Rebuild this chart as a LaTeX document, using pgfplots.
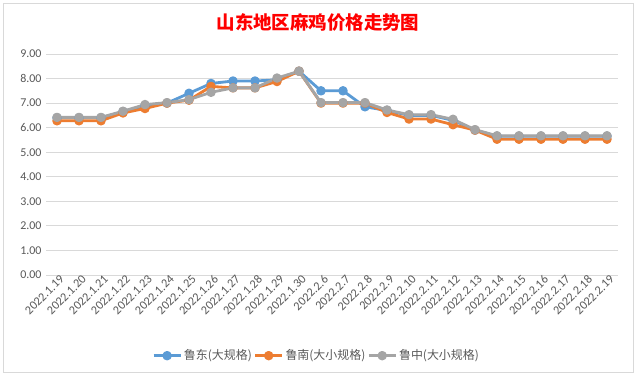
\documentclass[border=0pt]{standalone}
\usepackage{pgfplots}
\pgfplotsset{compat=1.18}
\usepackage{fontspec}
\setmainfont{Carlito}
\newfontfamily\cjk{Noto Sans CJK SC}
\definecolor{cblue}{HTML}{5B9BD5}
\definecolor{corange}{HTML}{ED7D31}
\definecolor{cgrey}{HTML}{A5A5A5}
\definecolor{gridc}{HTML}{D9D9D9}
\definecolor{txt}{HTML}{595959}
\begin{document}
\begin{tikzpicture}
\useasboundingbox (0bp,0bp) rectangle (636bp,376bp);
\fill[white] (0bp,0bp) rectangle (636bp,376bp);
\draw[gridc, line width=0.8bp] (3bp,4bp) rectangle (633bp,373bp);
\node[font=\cjk\bfseries\fontsize{18.5}{21}\selectfont, text=red] at (318bp,354bp) {山东地区麻鸡价格走势图};
\begin{axis}[
  at={(46bp,101bp)}, anchor=south west,
  scale only axis, width=572bp, height=221bp,
  xmin=-0.5, xmax=25.5, ymin=0, ymax=9,
  ytick={0,1,...,9},
  xtick={0,...,25},
  xticklabels={2022.1.19,2022.1.20,2022.1.21,2022.1.22,2022.1.23,2022.1.24,2022.1.25,2022.1.26,2022.1.27,2022.1.28,2022.1.29,2022.1.30,2022.2.6,2022.2.7,2022.2.8,2022.2.9,2022.2.10,2022.2.11,2022.2.12,2022.2.13,2022.2.14,2022.2.15,2022.2.16,2022.2.17,2022.2.18,2022.2.19},
  xticklabel style={rotate=45, anchor=north east, font=\fontsize{12.3}{14}\selectfont, text=txt, inner sep=1bp, xshift=3bp},
  yticklabel style={font=\fontsize{12}{14}\selectfont, text=txt, xshift=-1bp},
  y tick label style={/pgf/number format/.cd, fixed, fixed zerofill, precision=2, assume math mode=true},
  axis line style={draw=none},
  axis x line*=bottom,
  major tick length=0pt,
  ymajorgrids, grid style={gridc, line width=0.8bp},
  clip=false,
  legend style={at={(0.473,-0.365)}, anchor=center, draw=none, fill=none, legend columns=3,
    font=\cjk\fontsize{12}{14}\selectfont, text=txt,
    /tikz/every even column/.append style={column sep=0bp}},
  legend cell align=left,
  legend image code/.code={\draw[#1, line width=2.8bp] (0,0) -- (0.95cm,0); \fill[#1] (0.475cm,0) circle (3.3bp);},
  every axis plot/.append style={line width=2.8bp, mark=*, mark size=3.3bp, line join=round},
]
\addplot[cblue, mark options={fill=cblue, draw=cblue}] coordinates {
(0,6.4)(1,6.4)(2,6.4)(3,6.65)(4,6.9)(5,7.0)(6,7.4)(7,7.8)(8,7.9)(9,7.9)(10,7.95)(11,8.3)
(12,7.5)(13,7.5)(14,6.85)(15,6.7)(16,6.5)(17,6.5)(18,6.3)(19,5.9)(20,5.65)(21,5.65)(22,5.65)(23,5.65)(24,5.65)(25,5.65)};
\addlegendentry{鲁东(大规格)}
\addplot[corange, mark options={fill=corange, draw=corange}] coordinates {
(0,6.28)(1,6.28)(2,6.28)(3,6.6)(4,6.78)(5,7.0)(6,7.12)(7,7.68)(8,7.62)(9,7.62)(10,7.88)(11,8.3)
(12,7.0)(13,7.0)(14,7.0)(15,6.62)(16,6.35)(17,6.35)(18,6.12)(19,5.9)(20,5.53)(21,5.53)(22,5.53)(23,5.53)(24,5.53)(25,5.53)};
\addlegendentry{鲁南(大小规格)}
\addplot[cgrey, mark options={fill=cgrey, draw=cgrey}] coordinates {
(0,6.42)(1,6.42)(2,6.42)(3,6.67)(4,6.94)(5,7.02)(6,7.14)(7,7.44)(8,7.62)(9,7.62)(10,8.02)(11,8.3)
(12,7.02)(13,7.02)(14,7.02)(15,6.72)(16,6.53)(17,6.53)(18,6.34)(19,5.92)(20,5.67)(21,5.67)(22,5.67)(23,5.67)(24,5.67)(25,5.67)};
\addlegendentry{鲁中(大小规格)}
\end{axis}
\end{tikzpicture}
\end{document}
